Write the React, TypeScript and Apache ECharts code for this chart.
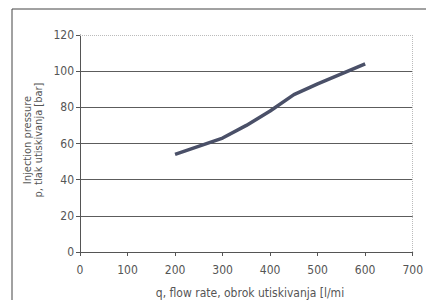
import React, { useEffect, useRef } from "react";
import * as echarts from "echarts";

const flowRate = [200, 300, 350, 400, 450, 500, 600];
const pressure = [54, 63, 70, 78, 87, 93, 104];
const yTicks = [0, 20, 40, 60, 80, 100, 120];
const xTicks = [0, 100, 200, 300, 400, 500, 600, 700];
const yTitle1 = "Injection pressure";
const yTitle2 = "p, tlak utiskivanja [bar]";
const xTitle = "q, flow rate, obrok utiskivanja [l/mi";

const FONT = "'Liberation Sans Narrow', 'Arial Narrow', 'DejaVu Sans Condensed', 'Liberation Sans', sans-serif";

export default function App() {
  const ref = useRef<HTMLDivElement>(null);
  useEffect(() => {
    if (!ref.current) return;
    const chart = echarts.init(ref.current, undefined, { renderer: "svg" });
    chart.setOption({
      animation: false,
      backgroundColor: "#fff",
      grid: { left: 80, right: 13, top: 35, bottom: 48 },
      xAxis: {
        type: "value",
        min: xTicks[0],
        max: xTicks[xTicks.length - 1],
        interval: 100,
        axisLine: { show: true, lineStyle: { color: "#555", width: 1 } },
        axisTick: { show: true, length: 4, lineStyle: { color: "#555" } },
        axisLabel: { color: "#555", fontSize: 12, fontFamily: FONT, margin: 12 },
        splitLine: { show: false },
      },
      yAxis: {
        type: "value",
        min: yTicks[0],
        max: yTicks[yTicks.length - 1],
        interval: 20,
        axisLine: { show: true, lineStyle: { color: "#555", width: 1 } },
        axisTick: { show: true, length: 4, lineStyle: { color: "#555" } },
        axisLabel: { color: "#555", fontSize: 12, fontFamily: FONT, margin: 6 },
        splitLine: {
          show: true,
          lineStyle: {
            color: ["#555", "#5c5c5c", "#5c5c5c", "#5c5c5c", "#5c5c5c", "#5c5c5c", "rgba(0,0,0,0)"],
            width: 1,
          },
        },
      },
      series: [
        {
          type: "line",
          data: flowRate.map((x, i) => [x, pressure[i]]),
          symbol: "none",
          lineStyle: { color: "#4a5068", width: 3.5 },
          markLine: {
            silent: true,
            symbol: "none",
            label: { show: false },
            lineStyle: { color: "#bbb", type: "dotted", width: 1 },
            data: [{ yAxis: yTicks[yTicks.length - 1] }, { xAxis: xTicks[xTicks.length - 1] }],
          },
        },
      ],
      graphic: [
        {
          type: "rect",
          shape: { x: 12, y: 9, width: 440, height: 320 },
          style: { fill: "none", stroke: "#444", lineWidth: 1 },
          silent: true,
        },
        {
          type: "text",
          x: 27,
          y: 140,
          rotation: Math.PI / 2,
          style: {
            text: yTitle1,
            fontSize: 11,
            fontFamily: FONT,
            fill: "#555",
            align: "center",
            verticalAlign: "middle",
          },
        },
        {
          type: "text",
          x: 38,
          y: 140,
          rotation: Math.PI / 2,
          style: {
            text: yTitle2,
            fontSize: 11,
            fontFamily: FONT,
            fill: "#555",
            align: "center",
            verticalAlign: "middle",
          },
        },
        {
          type: "text",
          x: 250,
          y: 293,
          style: {
            text: xTitle,
            fontSize: 12,
            fontFamily: FONT,
            fill: "#555",
            align: "center",
            verticalAlign: "middle",
          },
        },
      ],
    });
    return () => chart.dispose();
  }, []);
  return <div ref={ref} style={{ width: 426, height: 300, position: "absolute", left: 0, top: 0 }} />;
}
